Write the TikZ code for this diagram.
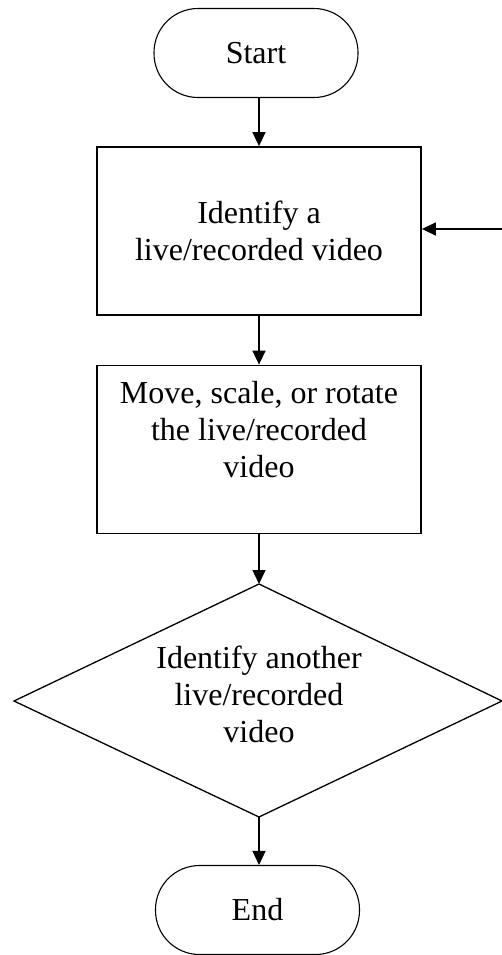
\documentclass[tikz,border=0pt]{standalone}
\usepackage{fontspec}
\setmainfont{Liberation Serif}
\usetikzlibrary{arrows.meta}

\tikzset{
  flowline/.style={line width=1.5bp, -{Triangle[length=14bp,width=13bp]}},
  terminal/.style={draw, line width=1.1bp, rectangle, rounded corners=44bp,
    minimum width=204bp, minimum height=89bp, inner sep=0pt},
  procbox/.style={draw, line width=1.8bp, rectangle,
    minimum width=324bp, minimum height=168bp, inner sep=0pt},
  lbl/.style={align=center, font=\fontsize{32bp}{37bp}\selectfont, inner sep=0pt},
}

\begin{document}
\begin{tikzpicture}[x=1bp, y=-1bp]
  \useasboundingbox (0,0) rectangle (502,955);

  % terminals
  \node[terminal] (start) at (256,53) {};
  \node[lbl] (starttxt) at (256,53) {Start};
  \node[terminal] (stop) at (257.5,910) {};
  \node[lbl] (stoptxt) at (257.5,910) {End};

  % process steps
  \node[procbox] (identify) at (259,231) {};
  \node[lbl] (identifytxt) at (259,231) {Identify a\\live/recorded video};
  \node[procbox] (move) at (259,449.5) {};
  \node[lbl] (movetxt) at (259,430) {Move, scale, or rotate\\the live/recorded\\video};

  % decision
  \coordinate (dtop) at (259,584);
  \coordinate (dright) at (502,701);
  \coordinate (dbottom) at (259,817);
  \coordinate (dleft) at (14,701);
  \draw[line width=1.3bp] (dtop) -- (dright) -- (dbottom) -- (dleft) -- cycle;
  \node[lbl] (decisiontxt) at (259,694) {Identify another\\live/recorded\\video};

  % connectors
  \draw[flowline] (start.south -| dtop) -- (identify.north -| dtop);
  \draw[flowline] (identify.south -| dtop) -- (move.north -| dtop);
  \draw[flowline] (move.south -| dtop) -- (dtop);
  \draw[flowline] (dbottom) -- (stop.north -| dbottom);
  \coordinate (loopin) at (502,229);
  \draw[flowline] (loopin) -- (identify.east |- loopin);
\end{tikzpicture}
\end{document}
